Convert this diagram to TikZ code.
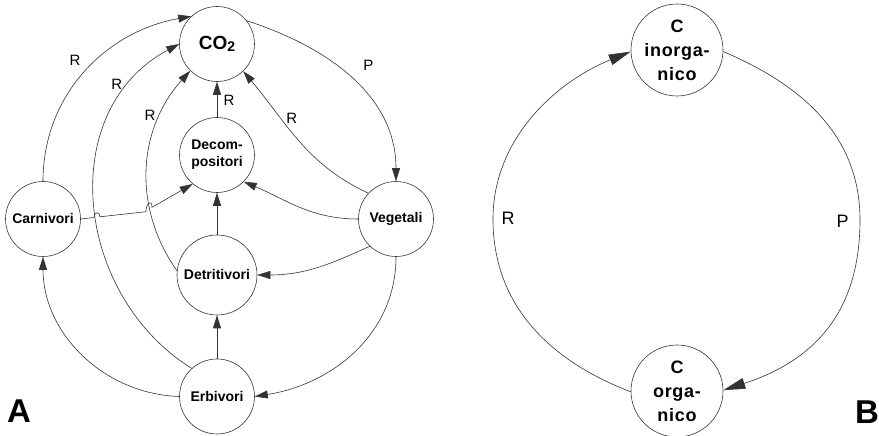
\documentclass[tikz,border=0pt]{standalone}
\usepackage{fontspec}
\setmainfont{Liberation Sans}
\usetikzlibrary{arrows.meta}
\begin{document}
\begin{tikzpicture}[x=1pt,y=1pt,
  ln/.style={draw=black!80, line width=0.6pt},
  nd/.style={circle, draw=black!80, line width=0.6pt, minimum size=75pt, inner sep=0pt, align=center, font=\fontsize{14}{17}\selectfont\bfseries},
  ndb/.style={nd, minimum size=92pt, font=\fontsize{18}{24}\selectfont\bfseries\addfontfeatures{LetterSpace=4}},
  arA/.style={ln, -{Triangle[length=13pt,width=8pt]}},
  arB/.style={ln, -{Triangle[length=22pt,width=11pt]}},
  lbl/.style={font=\fontsize{15}{15}\selectfont, inner sep=0pt},
  lblB/.style={font=\fontsize{18}{18}\selectfont, inner sep=0pt},
  panel/.style={font=\fontsize{33}{33}\selectfont\bfseries, inner sep=0pt, anchor=base west}
]
\useasboundingbox (0,0) rectangle (879,436);

% ---------- Panel A ----------
\node[nd, font=\fontsize{19}{20}\selectfont\bfseries] (co2) at (217,392) {CO\raisebox{-2pt}{\fontsize{14}{14}\selectfont 2}};
\node[nd] (dec) at (217,281) {Decom-\\positori};
\node[nd, minimum size=80pt] (det) at (217,161) {Detritivori};
\node[nd] (erb) at (217,39.5) {Erbivori};
\node[nd] (car) at (43,217) {Carnivori};
\node[nd] (veg) at (396,217) {Vegetali};

\coordinate (h1a) at (94,218.5);
\coordinate (h1b) at (100,219.2);
\coordinate (h2a) at (146,224.3);
\coordinate (h2b) at (152,228.7);

\draw[arA] (car.90) to[out=90,in=190] (co2.133);
\draw[arA] (erb.132) to[out=148,in=208,looseness=1.1] (co2.180);
\draw[arA] (det.174) to[out=125,in=228] (co2.225);
\draw[arA] (dec) -- (co2);
\draw[arA] (veg.137) to[out=155,in=-50] (co2.-46);
\draw[arA] (co2.38) to[out=-18,in=90] (veg.90);
\draw[arA] (veg.180) to[out=180,in=-23] (dec.-45);
\draw[arA] (det) -- (dec);
\draw[arA] (car.east) -- (h1a) to[out=90,in=90,looseness=2.5] (h1b) -- (h2a) to[out=90,in=90,looseness=3] (h2b) -- (dec.230);
\draw[arA] (veg.226) to[out=205,in=0] (det.0);
\draw[arA] (veg.270) to[out=270,in=9] (erb.0);
\draw[arA] (erb) -- (det);
\draw[arA] (erb.180) to[out=178,in=270] (car.270);

\node[lbl] (lR1) at (75,375.7) {R};
\node[lbl] (lR2) at (116.7,351.3) {R};
\node[lbl] (lR3) at (150,320.7) {R};
\node[lbl] (lR4) at (229,336) {R};
\node[lbl] (lR5) at (291.7,318) {R};
\node[lbl] (lP) at (368.3,370.7) {P};

\node[panel] (pA) at (7,13) {A};

% ---------- Panel B ----------
\node[ndb] (ci) at (677,386) {C\\inorga-\\nico};
\node[ndb] (co) at (677,45) {C\\orga-\\nico};
\coordinate (pr) at (860,216);
\coordinate (pl) at (493,217);
\draw[arB] (ci.-2) to[out=-23,in=90] (pr) to[out=-90,in=18,looseness=1.1] (co.1);
\draw[arB] (co.181) to[out=159,in=-90] (pl) to[out=90,in=202,looseness=0.95] (ci.182);
\node[lblB] (lRB) at (508,217.2) {R};
\node[lblB] (lPB) at (842.5,214.3) {P};

\node[panel] (pB) at (855,12) {B};
\end{tikzpicture}
\end{document}
